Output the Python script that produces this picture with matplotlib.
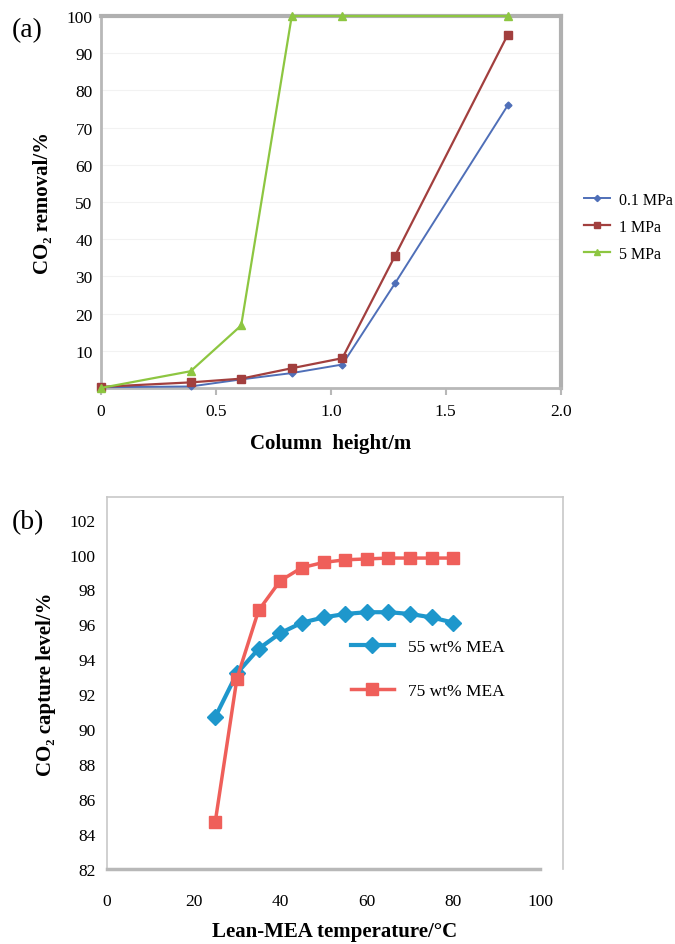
import matplotlib.pyplot as plt
import numpy as np

plt.rcParams['font.family'] = ['Liberation Serif', 'DejaVu Serif']

# panel (a): CO2 removal vs column height
height_m = [0, 0.39, 0.61, 0.83, 1.05, 1.28, 1.77]
removal_01mpa = [0.2, 0.4, 2.3, 4.0, 6.3, 28.2, 76.0]
removal_1mpa = [0.3, 1.5, 2.5, 5.3, 8.0, 35.6, 95.0]
height_5mpa = [0, 0.39, 0.61, 0.83, 1.05, 1.77]
removal_5mpa = [0.0, 4.5, 16.8, 100.0, 100.0, 100.0]
a_labels = ['0.1 MPa', '1 MPa', '5 MPa']

# panel (b): capture level vs lean-MEA temperature
temp_c = [25, 30, 35, 40, 45, 50, 55, 60, 65, 70, 75, 80]
capture_55 = [90.7, 93.2, 94.6, 95.5, 96.1, 96.4, 96.6, 96.7, 96.7, 96.6, 96.4, 96.1]
capture_75 = [84.7, 92.9, 96.8, 98.5, 99.25, 99.55, 99.7, 99.75, 99.8, 99.8, 99.8, 99.8]
b_labels = ['55 wt% MEA', '75 wt% MEA']

fig = plt.figure(figsize=(6.75, 9.45), dpi=100)

# ---- (a)
ax1 = fig.add_axes([0.1496, 0.5884, 0.681, 0.3936])
ax1.plot(height_m, removal_01mpa, color='#4F6FB8', marker='D', ms=3.5, lw=1.4,
         label=a_labels[0], clip_on=False, zorder=3)
ax1.plot(height_m, removal_1mpa, color='#A23F3E', marker='s', ms=5.5, lw=1.6,
         label=a_labels[1], clip_on=False, zorder=3)
ax1.plot(height_5mpa, removal_5mpa, color='#8DC641', marker='^', ms=5.5, lw=1.6,
         label=a_labels[2], clip_on=False, zorder=4)
ax1.set_xlim(0, 2.0)
ax1.set_ylim(0, 100)
ax1.set_xticks([0, 0.5, 1.0, 1.5, 2.0])
ax1.set_xticklabels(['0', '0.5', '1.0', '1.5', '2.0'])
ax1.set_yticks(np.arange(10, 101, 10))
for y in np.arange(10, 101, 10):
    ax1.axhline(y, color='#f2f2f2', lw=0.8, zorder=0)
for side in ['left', 'bottom']:
    ax1.spines[side].set_color('#b8b8b8')
    ax1.spines[side].set_linewidth(2)
for side in ['top', 'right']:
    ax1.spines[side].set_color('#b0b0b0')
    ax1.spines[side].set_linewidth(3)
ax1.tick_params(axis='x', direction='out', length=5, color='#b8b8b8', width=1.5,
                labelsize=12.5, pad=6)
ax1.tick_params(axis='y', length=0, labelsize=12.5, pad=6)
ax1.set_xlabel('Column  height/m', fontsize=15, fontweight='bold', labelpad=10)
ax1.set_ylabel('CO₂ removal/%', fontsize=15, fontweight='bold', labelpad=10)
ax1.legend(loc='center left', bbox_to_anchor=(1.02, 0.433), frameon=False,
           fontsize=11.5, handlelength=1.6, labelspacing=0.7, handletextpad=0.6,
           markerscale=0.9)
fig.text(0.018, 0.968, '(a)', fontsize=20, va='center')

# ---- (b)
ax2 = fig.add_axes([0.1585, 0.0794, 0.6756, 0.3937])
ax2.plot(temp_c, capture_55, color='#1E97CC', marker='D', ms=8.5, lw=3,
         label=b_labels[0], zorder=3)
ax2.plot(temp_c, capture_75, color='#EF5F5A', marker='s', ms=8.5, lw=2.5,
         label=b_labels[1], zorder=3)
ax2.set_xlim(0, 105.3)
ax2.set_ylim(82, 103.3)
ax2.set_xticks(np.arange(0, 101, 20))
ax2.set_yticks(np.arange(82, 103, 2))
for side in ['left', 'top', 'right']:
    ax2.spines[side].set_color('#c8c8c8')
    ax2.spines[side].set_linewidth(1.2)
ax2.spines['bottom'].set_color('#b8b8b8')
ax2.spines['bottom'].set_linewidth(2.5)
ax2.spines['bottom'].set_bounds(0, 100)
ax2.tick_params(axis='x', length=0, labelsize=12.5, pad=17)
ax2.tick_params(axis='y', length=0, labelsize=12.5, pad=8)
ax2.set_xlabel('Lean-MEA temperature/°C', fontsize=15, fontweight='bold', labelpad=9)
ax2.set_ylabel('CO₂ capture level/%', fontsize=15, fontweight='bold', labelpad=10)
ax2.legend(loc='upper left', bbox_to_anchor=(0.5, 0.66), frameon=False,
           fontsize=12.5, handlelength=2.5, labelspacing=1.6, handletextpad=0.8)
fig.text(0.018, 0.447, '(b)', fontsize=20, va='center')

fig.savefig('out.png', dpi=100)
